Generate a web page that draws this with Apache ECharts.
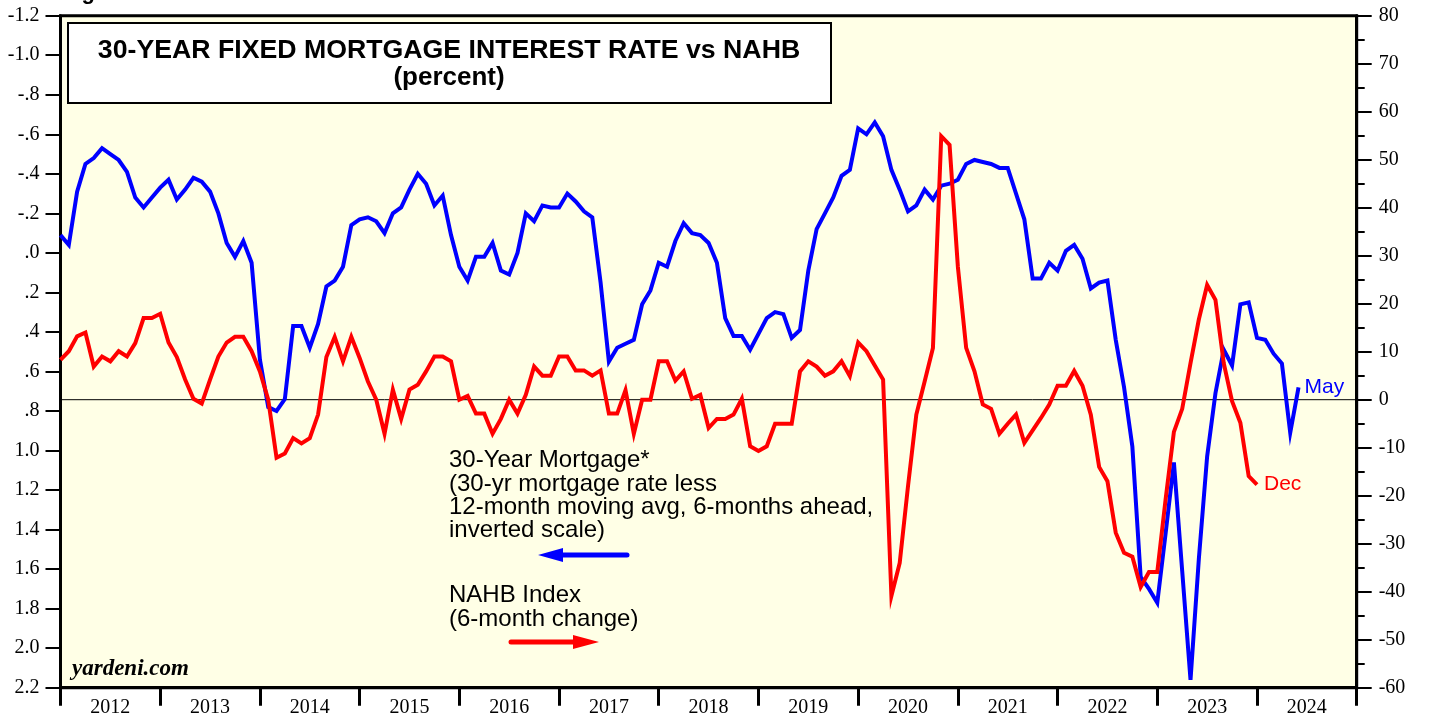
<!DOCTYPE html>
<html>
<head>
<meta charset="utf-8">
<script src="https://cdn.jsdelivr.net/npm/echarts@6/dist/echarts.min.js"></script>
<style>
  html, body { margin: 0; padding: 0; background: #fff; }
  #chart { width: 1438px; height: 719px; }
</style>
</head>
<body>
<div id="chart"></div>
<script>
// 月度数据，起点 2011年12月（画在 2012.0 处）
var startYear = 2012;

var yearLabels = ['2012', '2013', '2014', '2015', '2016', '2017', '2018',
    '2019', '2020', '2021', '2022', '2023', '2024'];

// 30-yr mortgage rate less 12-mo avg, 6 months ahead (left axis, inverted) -> 到 2024年5月
var mortgage = [
    -0.09, -0.04, -0.31, -0.45, -0.48, -0.53, -0.50, -0.47, -0.41, -0.28, -0.23, -0.28,
    -0.33, -0.37, -0.27, -0.32, -0.38, -0.36, -0.31, -0.20, -0.05, 0.02, -0.06, 0.05,
    0.54, 0.78, 0.80, 0.74, 0.37, 0.37, 0.48, 0.36, 0.17, 0.14, 0.07, -0.14,
    -0.17, -0.18, -0.16, -0.10, -0.20, -0.23, -0.32, -0.40, -0.35, -0.24, -0.29, -0.09,
    0.07, 0.14, 0.02, 0.02, -0.05, 0.09, 0.11, 0.00, -0.20, -0.16, -0.24, -0.23,
    -0.23, -0.30, -0.26, -0.21, -0.18, 0.15, 0.55, 0.48, 0.46, 0.44, 0.26, 0.19,
    0.05, 0.07, -0.06, -0.15, -0.10, -0.09, -0.05, 0.05, 0.33, 0.42, 0.42, 0.49,
    0.41, 0.33, 0.30, 0.31, 0.43, 0.39, 0.09, -0.12, -0.20, -0.28, -0.39, -0.42,
    -0.63, -0.60, -0.66, -0.59, -0.42, -0.32, -0.21, -0.24, -0.32, -0.27, -0.34, -0.35,
    -0.37, -0.45, -0.47, -0.46, -0.45, -0.43, -0.43, -0.30, -0.17, 0.13, 0.13, 0.05,
    0.09, -0.01, -0.04, 0.03, 0.18, 0.15, 0.14, 0.44, 0.68, 0.98, 1.64, 1.70,
    1.77, 1.42, 1.06, 1.61, 2.16, 1.55, 1.03, 0.71, 0.49, 0.57, 0.26, 0.25,
    0.43, 0.44, 0.51, 0.56, 0.91, 0.68
];

// NAHB index 6-month change (right axis) -> 到 2023年12月
var nahb = [
    8.3, 10.1, 13.2, 14.0, 6.9, 9.0, 8.0, 10.1, 9.0, 11.8, 17.0, 17.0,
    17.9, 11.9, 8.9, 4.2, 0.2, -0.8, 4.2, 9.0, 11.9, 13.1, 13.1, 10.1,
    5.9, 0.0, -12.1, -11.2, -8.0, -9.1, -8.0, -3.1, 8.9, 13.1, 8.0, 13.1,
    8.7, 3.8, 0.0, -7.1, 2.1, -4.0, 2.1, 3.1, 5.9, 9.0, 9.0, 8.0,
    0.0, 0.8, -2.9, -2.9, -7.1, -4.0, 0.0, -2.9, 1.0, 6.9, 5.0, 5.0,
    9.0, 9.0, 6.1, 6.1, 5.0, 6.1, -2.9, -2.9, 2.0, -7.1, 0.0, 0.0,
    8.0, 8.0, 4.0, 5.9, 0.2, 1.0, -5.9, -4.0, -4.0, -3.1, 0.2, -9.7,
    -10.7, -9.7, -5.0, -5.0, -5.0, 5.9, 8.0, 6.9, 5.0, 5.9, 8.0, 4.9,
    11.9, 10.1, 7.1, 4.2, -40.9, -34.0, -18.0, -3.1, 3.8, 10.8, 54.9, 53.1,
    27.7, 10.8, 5.9, -1.0, -1.9, -7.1, -5.0, -3.1, -9.0, -6.4, -3.8, -1.0,
    2.9, 2.9, 6.0, 2.9, -3.1, -14.0, -17.0, -27.7, -31.9, -32.7, -39.0, -35.9,
    -35.9, -20.8, -6.7, -1.9, 7.6, 16.7, 23.9, 20.8, 7.6, -0.3, -4.8, -15.9,
    -17.7
];

var zeroLine = [[2012, 0], [2025, 0]];

function toPairs(arr) {
    var out = [];
    for (var i = 0; i < arr.length; i++) {
        out.push([startYear + i / 12, arr[i]]);
    }
    return out;
}

// 左轴格式: -1.2, -.8, .0, .2, 1.0 ...
function fmtLeft(v) {
    var r = Math.round(v * 10) / 10;
    var s = Math.abs(r).toFixed(1);
    if (Math.abs(r) < 1) s = s.substring(1);
    return (r < 0 ? '-' : '') + s;
}

var serif = 'Liberation Serif';
var sans = 'Liberation Sans';

var myChart = echarts.init(document.getElementById('chart'));

var option = {
    animation: false,
    grid: {
        left: 60.5,
        right: 81.3,
        top: 15.7,
        bottom: 31.3,
        show: true,
        backgroundColor: '#ffffe6',
        borderColor: '#000',
        borderWidth: 3
    },
    xAxis: [{
        type: 'category',
        data: yearLabels,
        position: 'bottom',
        boundaryGap: true,
        axisLine: { show: true, onZero: false, lineStyle: { color: '#000', width: 3 } },
        axisTick: { show: true, interval: 0, alignWithLabel: false, inside: false, length: 18,
            lineStyle: { color: '#000', width: 3 } },
        axisLabel: { interval: 0, fontFamily: serif, fontSize: 20, color: '#000', margin: 10 },
        splitLine: { show: false }
    }, {
        type: 'value',
        min: 2012,
        max: 2025,
        show: false
    }],
    yAxis: [{
        type: 'value',
        inverse: true,
        min: -1.2,
        max: 2.2,
        interval: 0.2,
        position: 'left',
        axisLine: { show: true, onZero: false, lineStyle: { color: '#000', width: 3 } },
        axisTick: { show: true, length: 15, lineStyle: { color: '#000', width: 2 } },
        axisLabel: { formatter: fmtLeft, fontFamily: serif, fontSize: 20, color: '#000', margin: 21, padding: [4, 0, 0, 0] },
        splitLine: { show: false }
    }, {
        type: 'value',
        min: -60,
        max: 80,
        interval: 10,
        position: 'right',
        axisLine: { show: true, onZero: false, lineStyle: { color: '#000', width: 3 } },
        axisTick: { show: true, length: 15, lineStyle: { color: '#000', width: 2 } },
        minorTick: { show: true, splitNumber: 2, length: 8, lineStyle: { color: '#000', width: 2 } },
        axisLabel: { fontFamily: serif, fontSize: 20, color: '#000', margin: 22, padding: [2, 0, 0, 0] },
        splitLine: { show: false },
        minorSplitLine: { show: false }
    }],
    series: [{
        name: 'zero',
        type: 'line',
        xAxisIndex: 1,
        yAxisIndex: 1,
        data: zeroLine,
        symbol: 'none',
        silent: true,
        z: 1,
        lineStyle: { color: '#000', width: 1 }
    }, {
        name: '30-Year Mortgage',
        type: 'line',
        xAxisIndex: 1,
        yAxisIndex: 0,
        data: toPairs(mortgage),
        symbol: 'none',
        z: 3,
        lineStyle: { color: '#0000ff', width: 4, join: 'miter' },
        endLabel: { show: true, formatter: 'May', color: '#0000ff', fontFamily: sans, fontSize: 21, distance: 6, padding: [4, 0, 0, 0] }
    }, {
        name: 'NAHB Index',
        type: 'line',
        xAxisIndex: 1,
        yAxisIndex: 1,
        data: toPairs(nahb),
        symbol: 'none',
        z: 4,
        lineStyle: { color: '#ff0000', width: 4, join: 'miter' },
        endLabel: { show: true, formatter: 'Dec', color: '#ff0000', fontFamily: sans, fontSize: 21, distance: 7, padding: [6, 0, 0, 0] }
    }],
    graphic: [
        // 标题框
        {
            type: 'rect', z: 10,
            shape: { x: 68, y: 23, width: 763, height: 80 },
            style: { fill: '#fff', stroke: '#000', lineWidth: 2 }
        },
        {
            type: 'text', z: 11,
            style: { x: 449, y: 51, text: '30-YEAR FIXED MORTGAGE INTEREST RATE vs NAHB',
                font: 'bold 26.7px "Liberation Sans"', fill: '#000', textAlign: 'center', textVerticalAlign: 'middle' }
        },
        {
            type: 'text', z: 11,
            style: { x: 449, y: 78, text: '(percent)',
                font: 'bold 26px "Liberation Sans"', fill: '#000', textAlign: 'center', textVerticalAlign: 'middle' }
        },
        {
            type: 'text', z: 11,
            style: { x: 62, y: 4, text: 'Figure 3.',
                font: 'bold 22px "Liberation Sans"', fill: '#000', textAlign: 'left', textVerticalAlign: 'bottom' }
        },
        // 注释
        {
            type: 'text', z: 11,
            style: { x: 449, y: 449,
                text: '30-Year Mortgage*\n(30-yr mortgage rate less\n12-month moving avg, 6-months ahead,\ninverted scale)',
                font: '24px "Liberation Sans"', lineHeight: 23.3, fill: '#000', textAlign: 'left', textVerticalAlign: 'top' }
        },
        {
            type: 'line', z: 11,
            shape: { x1: 627, y1: 555, x2: 556, y2: 555 },
            style: { stroke: '#0000ff', lineWidth: 5, lineCap: 'round' }
        },
        {
            type: 'polygon', z: 11,
            shape: { points: [[538, 555], [563, 548], [563, 562]] },
            style: { fill: '#0000ff' }
        },
        {
            type: 'text', z: 11,
            style: { x: 449, y: 584,
                text: 'NAHB Index\n(6-month change)',
                font: '24px "Liberation Sans"', lineHeight: 23.3, fill: '#000', textAlign: 'left', textVerticalAlign: 'top' }
        },
        {
            type: 'line', z: 11,
            shape: { x1: 511, y1: 642, x2: 580, y2: 642 },
            style: { stroke: '#ff0000', lineWidth: 5, lineCap: 'round' }
        },
        {
            type: 'polygon', z: 11,
            shape: { points: [[599, 642], [573, 635], [573, 649]] },
            style: { fill: '#ff0000' }
        },
        {
            type: 'text', z: 11,
            style: { x: 72, y: 681, text: 'yardeni.com',
                font: 'italic bold 23px "Liberation Serif"', fill: '#000', textAlign: 'left', textVerticalAlign: 'bottom' }
        }
    ]
};

myChart.setOption(option);
</script>
</body>
</html>
